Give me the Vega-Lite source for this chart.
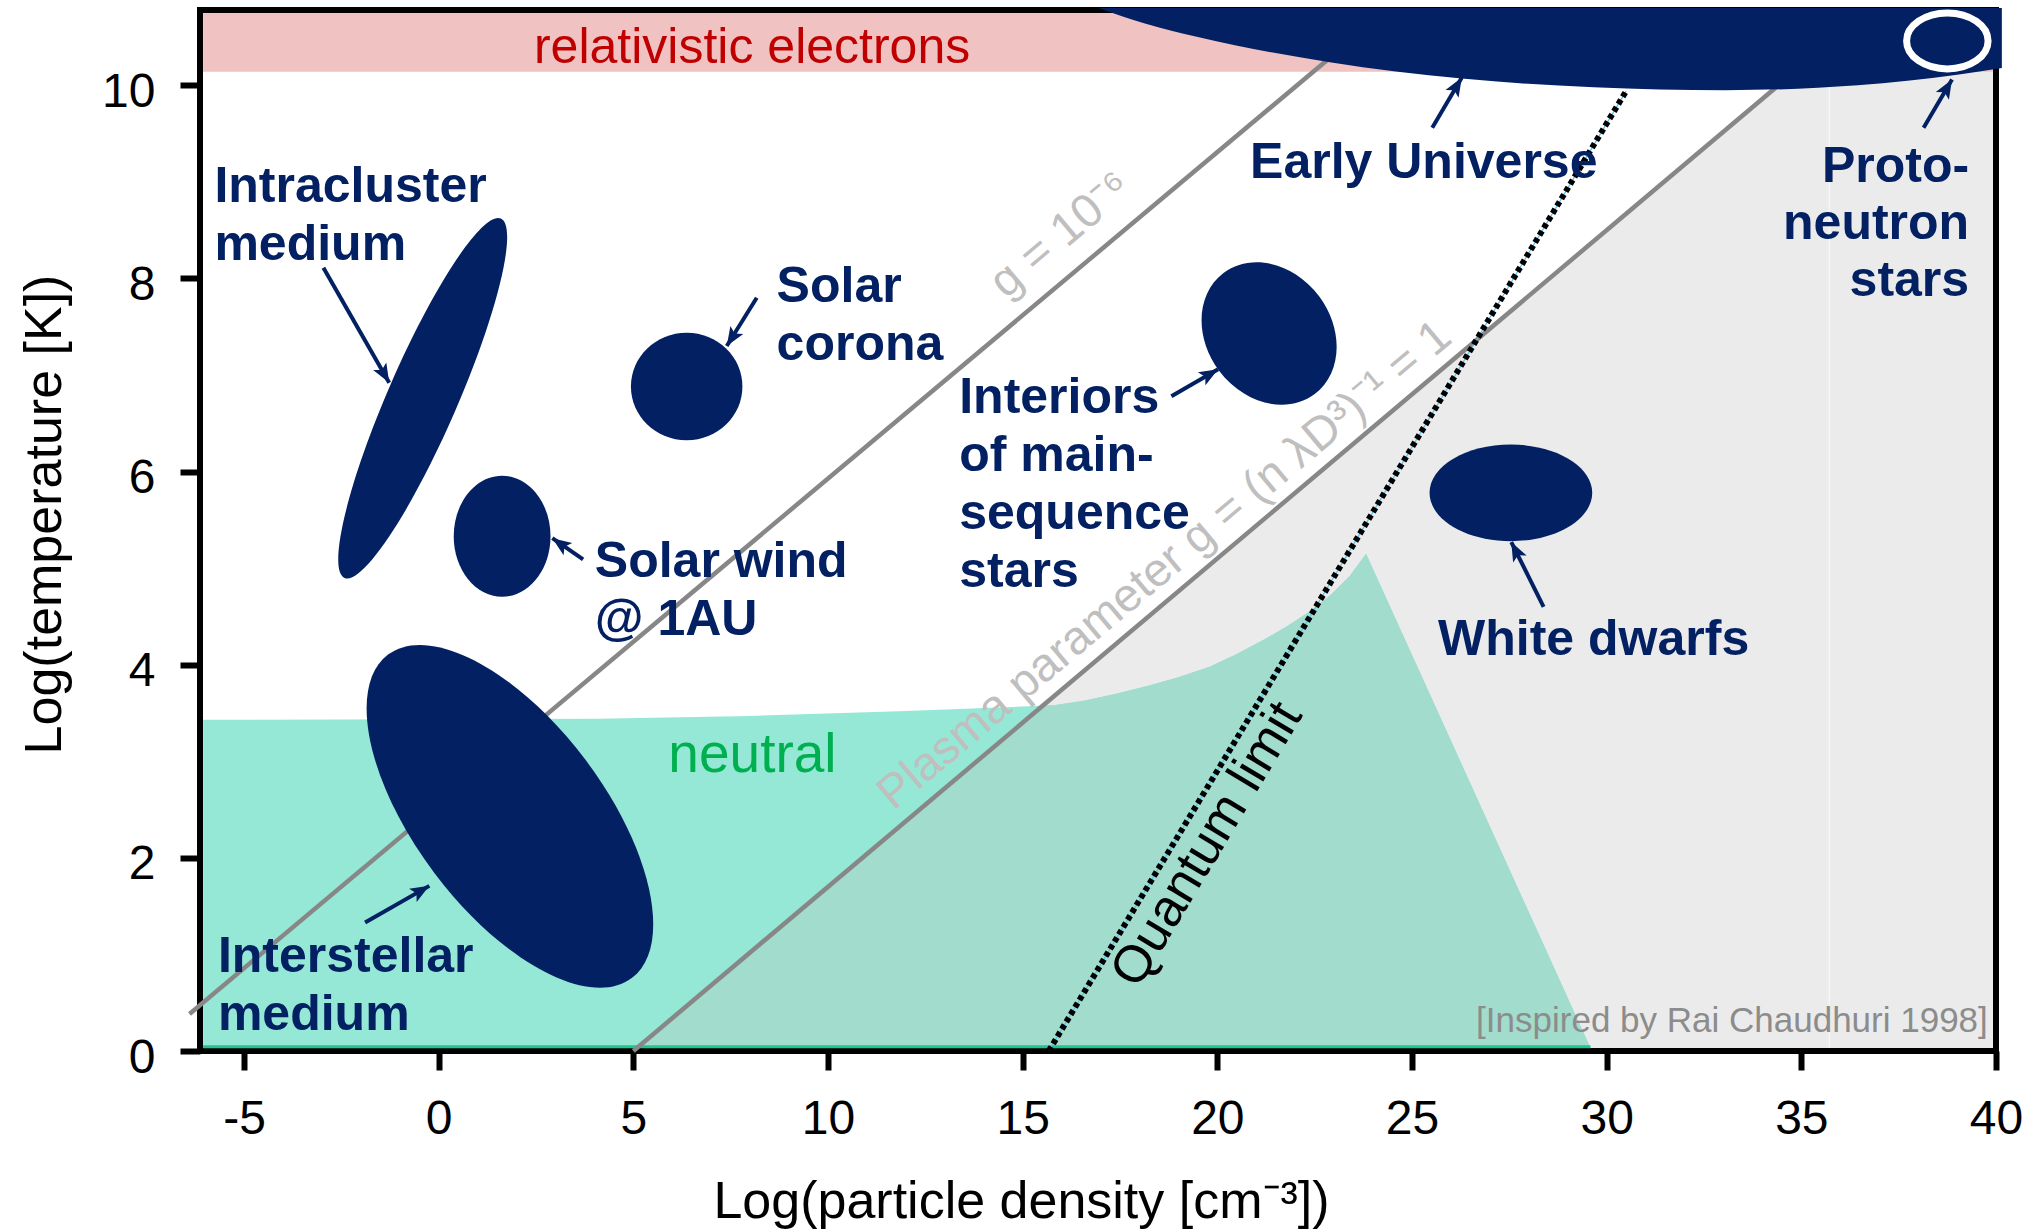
{
  "$schema": "https://vega.github.io/schema/vega-lite/v6.json",
  "width": 1796,
  "height": 1041,
  "autosize": {"type": "none"},
  "padding": {"left": 200, "top": 10, "right": 39, "bottom": 180},
  "background": "white",
  "config": {
    "font": "Liberation Sans",
    "view": {"stroke": "black", "strokeWidth": 6},
    "axis": {
      "domain": false, "grid": false, "tickColor": "black", "tickWidth": 6,
      "labelFont": "Liberation Sans", "labelFontSize": 48, "labelColor": "black",
      "titleFont": "Liberation Sans", "titleFontSize": 52, "titleFontWeight": "normal", "titleColor": "black",
      "labelFlush": false, "labelOverlap": false
    }
  },
  "datasets": {
    "pink": [{"x": -6.05, "x2": 39.92, "y": 10.14, "y2": 10.749}],
    "gray": [{"x": 5.09, "y": 0.031}, {"x": 36.61, "y": 10.749}, {"x": 39.92, "y": 10.749}],
    "faint": [{"x": 35.72, "y": 0.031, "y2": 9.99}],
    "teal": [
      {"x": -6.05, "y": 3.43}, {"x": 4.1, "y": 3.44}, {"x": 8.0, "y": 3.47}, {"x": 12.0, "y": 3.52},
      {"x": 15.8, "y": 3.58}, {"x": 16.6, "y": 3.63}, {"x": 17.4, "y": 3.7}, {"x": 18.2, "y": 3.78},
      {"x": 19.0, "y": 3.87}, {"x": 19.8, "y": 3.98}, {"x": 20.5, "y": 4.11}, {"x": 21.2, "y": 4.26},
      {"x": 21.8, "y": 4.4}, {"x": 22.4, "y": 4.56}, {"x": 22.9, "y": 4.72}, {"x": 23.4, "y": 4.92},
      {"x": 23.82, "y": 5.15}, {"x": 29.585, "y": 0.031}
    ],
    "tealdark": [
      {"x": 5.09, "y": 0.031}, {"x": 15.52, "y": 3.577}, {"x": 15.8, "y": 3.58}, {"x": 16.6, "y": 3.63},
      {"x": 17.4, "y": 3.7}, {"x": 18.2, "y": 3.78}, {"x": 19.0, "y": 3.87}, {"x": 19.8, "y": 3.98},
      {"x": 20.5, "y": 4.11}, {"x": 21.2, "y": 4.26}, {"x": 21.8, "y": 4.4}, {"x": 22.4, "y": 4.56},
      {"x": 22.9, "y": 4.72}, {"x": 23.4, "y": 4.92}, {"x": 23.82, "y": 5.15}, {"x": 29.585, "y": 0.031}
    ],
    "bottomline": [{"x": -6.05, "x2": 29.585, "y": 0.045}],
    "glines": [
      {"g": "1e-6", "x": -6.4, "y": 0.384}, {"g": "1e-6", "x": 23.2, "y": 10.39},
      {"g": "1", "x": 5.0, "y": 0.0}, {"g": "1", "x": 35.5, "y": 10.37}
    ],
    "quantum": [{"x": 15.67, "y": 0.0}, {"x": 30.5, "y": 9.94}],
    "ellipses": [
      {"name": "intracluster", "x": -0.41, "y": 6.76},
      {"name": "solarwind", "x": 1.63, "y": 5.33},
      {"name": "corona", "x": 6.37, "y": 6.88},
      {"name": "interstellar", "x": 1.83, "y": 2.43},
      {"name": "interiors", "x": 21.33, "y": 7.43},
      {"name": "whitedwarfs", "x": 27.54, "y": 5.78},
      {"name": "protoneutron", "x": 38.75, "y": 10.46}
    ],
    "blob": [
      {"x": 16.96, "y": 10.797}, {"x": 18.14, "y": 10.64}, {"x": 19.5, "y": 10.5}, {"x": 22.89, "y": 10.24},
      {"x": 26.28, "y": 10.07}, {"x": 29.67, "y": 9.98}, {"x": 33.06, "y": 9.95}, {"x": 36.45, "y": 10.0},
      {"x": 39.0, "y": 10.11}, {"x": 40.15, "y": 10.18}
    ],
    "arrows": [
      {"x": -2.96, "y": 8.11, "x2": -1.27, "y2": 6.92, "heading": 60},
      {"x": 8.17, "y": 7.8, "x2": 7.4, "y2": 7.3, "heading": 122},
      {"x": 3.71, "y": 5.09, "x2": 2.92, "y2": 5.31, "heading": 215},
      {"x": -1.89, "y": 1.33, "x2": -0.24, "y2": 1.71, "heading": -30},
      {"x": 18.82, "y": 6.78, "x2": 20.02, "y2": 7.06, "heading": -30},
      {"x": 25.52, "y": 9.56, "x2": 26.28, "y2": 10.08, "heading": -59},
      {"x": 38.14, "y": 9.56, "x2": 38.87, "y2": 10.06, "heading": -59.5},
      {"x": 28.38, "y": 4.6, "x2": 27.55, "y2": 5.27, "heading": 243}
    ],
    "navyleft": [
      {"x": -5.76, "y": 8.79, "label": "Intracluster\nmedium"},
      {"x": 8.68, "y": 7.76, "label": "Solar\ncorona"},
      {"x": 4.01, "y": 4.91, "label": "Solar wind\n@ 1AU"},
      {"x": -5.67, "y": 0.82, "label": "Interstellar\nmedium"},
      {"x": 13.37, "y": 6.61, "label": "Interiors\nof main-\nsequence\nstars"},
      {"x": 20.84, "y": 9.04, "label": "Early Universe"},
      {"x": 25.67, "y": 4.1, "label": "White dwarfs"}
    ],
    "navyright": [{"x": 39.31, "y": 9.0, "label": "Proto-\nneutron\nstars"}],
    "red": [{"x": 8.05, "y": 10.23, "label": "relativistic electrons"}],
    "green": [{"x": 5.9, "y": 2.89, "label": "neutral"}],
    "credit": [{"x": 39.79, "y": 0.2, "label": "[Inspired by Rai Chaudhuri 1998]"}],
    "glabel": [{"x": 15.98, "y": 8.45, "label": "g = 10⁻⁶"}],
    "plasma": [{"x": 18.65, "y": 5.03, "label": "Plasma parameter g = (n λD³)⁻¹ = 1"}],
    "qlabel": [{"x": 19.73, "y": 2.14, "label": "Quantum limit"}]
  },
  "encoding": {
    "x": {
      "field": "x", "type": "quantitative",
      "scale": {"domain": [-6.13, 40], "nice": false, "zero": false},
      "axis": {
        "values": [-5, 0, 5, 10, 15, 20, 25, 30, 35, 40],
        "tickSize": 19, "labelPadding": 25,
        "labelExpr": "replace(datum.label, '−', '-')",
        "title": "Log(particle density [cm⁻³])",
        "titleX": 821, "titleY": 166, "titleAlign": "center", "titleBaseline": "alphabetic"
      }
    },
    "y": {
      "field": "y", "type": "quantitative",
      "scale": {"domain": [0, 10.78], "nice": false, "zero": false},
      "axis": {
        "values": [0, 2, 4, 6, 8, 10],
        "tickSize": 20, "labelPadding": 25, "labelOffset": 7,
        "title": "Log(temperature [K])",
        "titleX": -140, "titleY": 504, "titleAngle": -90, "titleAlign": "center", "titleBaseline": "alphabetic"
      }
    }
  },
  "layer": [
    {"data": {"name": "gray"}, "mark": {"type": "area", "color": "#ebebeb", "opacity": 1}, "encoding": {"y2": {"datum": 0.031}}},
    {"data": {"name": "pink"}, "mark": {"type": "rect", "color": "#f0c2c2", "opacity": 1}, "encoding": {"x2": {"field": "x2"}, "y2": {"field": "y2"}}},
    {"data": {"name": "faint"}, "mark": {"type": "rule", "color": "#f6f6f6", "strokeWidth": 1.5}, "encoding": {"y2": {"field": "y2"}}},
    {"data": {"name": "teal"}, "mark": {"type": "area", "color": "#96e8d6", "opacity": 1}, "encoding": {"y2": {"datum": 0.031}}},
    {"data": {"name": "tealdark"}, "mark": {"type": "area", "color": "#a2dccd", "opacity": 1}, "encoding": {"y2": {"datum": 0.031}}},
    {"data": {"name": "bottomline"}, "mark": {"type": "rule", "color": "#1fc493", "strokeWidth": 3}, "encoding": {"x2": {"field": "x2"}}},
    {"data": {"name": "glines"}, "mark": {"type": "line", "color": "#878787", "strokeWidth": 4.5}, "encoding": {"detail": {"field": "g"}}},
    {"data": {"name": "quantum"}, "mark": {"type": "line", "color": "#4fc3f7", "strokeWidth": 1.2}, "encoding": {}},
    {"data": {"name": "quantum"}, "mark": {"type": "line", "color": "black", "strokeWidth": 6, "strokeDash": [5, 3.5], "strokeCap": "butt"}, "encoding": {}},
    {"data": {"name": "ellipses"}, "transform": [{"filter": "datum.name === 'intracluster'"}],
     "mark": {"type": "point", "shape": "M-1,0A1,0.178 0 1,0 1,0A1,0.178 0 1,0 -1,0Z", "size": 153664, "angle": -66.5, "filled": true, "color": "#022062", "opacity": 1, "strokeWidth": 0}},
    {"data": {"name": "ellipses"}, "transform": [{"filter": "datum.name === 'solarwind'"}],
     "mark": {"type": "point", "shape": "M-1,0A1,0.8 0 1,0 1,0A1,0.8 0 1,0 -1,0Z", "size": 14641, "angle": 90, "filled": true, "color": "#022062", "opacity": 1, "strokeWidth": 0}},
    {"data": {"name": "ellipses"}, "transform": [{"filter": "datum.name === 'corona'"}],
     "mark": {"type": "point", "shape": "M-1,0A1,0.964 0 1,0 1,0A1,0.964 0 1,0 -1,0Z", "size": 12432, "angle": 0, "filled": true, "color": "#022062", "opacity": 1, "strokeWidth": 0}},
    {"data": {"name": "ellipses"}, "transform": [{"filter": "datum.name === 'interstellar'"}],
     "mark": {"type": "point", "shape": "M-1,0A1,0.466 0 1,0 1,0A1,0.466 0 1,0 -1,0Z", "size": 164025, "angle": 53, "filled": true, "color": "#022062", "opacity": 1, "strokeWidth": 0}},
    {"data": {"name": "ellipses"}, "transform": [{"filter": "datum.name === 'interiors'"}],
     "mark": {"type": "point", "shape": "M-1,0A1,0.823 0 1,0 1,0A1,0.823 0 1,0 -1,0Z", "size": 22982, "angle": 53, "filled": true, "color": "#022062", "opacity": 1, "strokeWidth": 0}},
    {"data": {"name": "ellipses"}, "transform": [{"filter": "datum.name === 'whitedwarfs'"}],
     "mark": {"type": "point", "shape": "M-1,0A1,0.594 0 1,0 1,0A1,0.594 0 1,0 -1,0Z", "size": 26471, "angle": 0, "filled": true, "color": "#022062", "opacity": 1, "strokeWidth": 0}},
    {"data": {"name": "blob"}, "mark": {"type": "area", "color": "#022062", "opacity": 1, "interpolate": "monotone"}, "encoding": {"y2": {"datum": 10.8}}},
    {"data": {"name": "ellipses"}, "transform": [{"filter": "datum.name === 'protoneutron'"}],
     "mark": {"type": "point", "shape": "M-1,0A1,0.687 0 1,0 1,0A1,0.687 0 1,0 -1,0Z", "size": 6642, "angle": 0, "filled": true, "fill": "#022062", "stroke": "white", "strokeWidth": 7, "opacity": 1}},
    {"data": {"name": "arrows"}, "mark": {"type": "rule", "color": "#022062", "strokeWidth": 4, "strokeCap": "butt"}, "encoding": {"x2": {"field": "x2"}, "y2": {"field": "y2"}}},
    {"data": {"name": "arrows"},
     "mark": {"type": "point", "shape": "M0,0L-1,-0.4L-0.78,0L-1,0.4Z", "size": 1444, "filled": true, "color": "#022062", "opacity": 1, "strokeWidth": 0},
     "encoding": {"x": {"field": "x2", "type": "quantitative"}, "y": {"field": "y2", "type": "quantitative"}, "angle": {"field": "heading", "type": "quantitative", "scale": null}}},
    {"data": {"name": "navyleft"}, "mark": {"type": "text", "align": "left", "baseline": "alphabetic", "fontSize": 50, "fontWeight": "bold", "color": "#022062", "lineBreak": "\n", "lineHeight": 58}, "encoding": {"text": {"field": "label"}}},
    {"data": {"name": "navyright"}, "mark": {"type": "text", "align": "right", "baseline": "alphabetic", "fontSize": 50, "fontWeight": "bold", "color": "#022062", "lineBreak": "\n", "lineHeight": 57}, "encoding": {"text": {"field": "label"}}},
    {"data": {"name": "red"}, "mark": {"type": "text", "align": "center", "baseline": "alphabetic", "fontSize": 50, "color": "#c00000"}, "encoding": {"text": {"field": "label"}}},
    {"data": {"name": "green"}, "mark": {"type": "text", "align": "left", "baseline": "alphabetic", "fontSize": 55, "color": "#00b050"}, "encoding": {"text": {"field": "label"}}},
    {"data": {"name": "credit"}, "mark": {"type": "text", "align": "right", "baseline": "alphabetic", "fontSize": 35, "color": "#8c8c8c"}, "encoding": {"text": {"field": "label"}}},
    {"data": {"name": "glabel"}, "mark": {"type": "text", "align": "center", "baseline": "middle", "fontSize": 47, "angle": -40, "color": "#bfbfbf"}, "encoding": {"text": {"field": "label"}}},
    {"data": {"name": "plasma"}, "mark": {"type": "text", "align": "center", "baseline": "middle", "fontSize": 47, "angle": -40, "color": "#bfbfbf"}, "encoding": {"text": {"field": "label"}}},
    {"data": {"name": "qlabel"}, "mark": {"type": "text", "align": "center", "baseline": "middle", "fontSize": 52, "angle": -59, "color": "black"}, "encoding": {"text": {"field": "label"}}}
  ]
}
